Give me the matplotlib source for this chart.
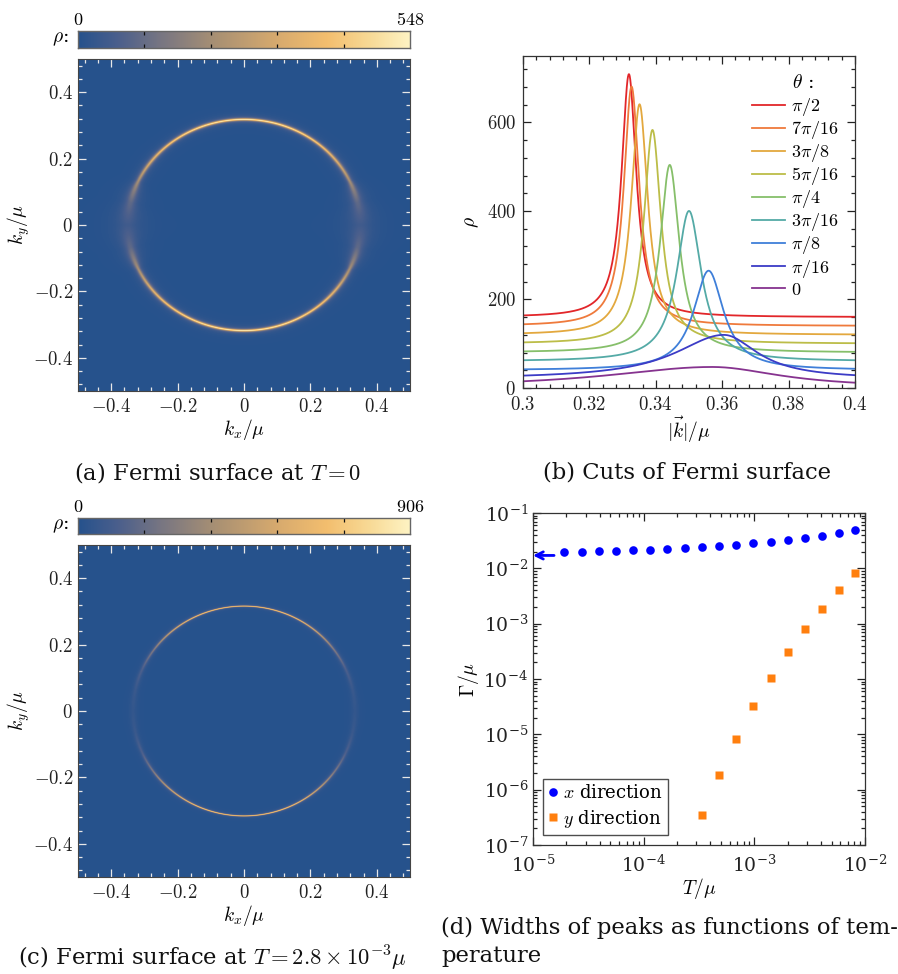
import numpy as np
import matplotlib
matplotlib.use("Agg")
import matplotlib.pyplot as plt
from matplotlib.colors import LinearSegmentedColormap
from matplotlib.ticker import MultipleLocator, FuncFormatter, LogLocator, NullFormatter

plt.rcParams['mathtext.fontset'] = 'cm'
plt.rcParams['font.family'] = ['DejaVu Serif']

# ---------------- data ----------------
# panel (b): cuts of Fermi surface at angles theta
theta_labels = [r'$\pi/2$', r'$7\pi/16$', r'$3\pi/8$', r'$5\pi/16$', r'$\pi/4$',
                r'$3\pi/16$', r'$\pi/8$', r'$\pi/16$', r'$0$']
theta_vals = [8, 7, 6, 5, 4, 3, 2, 1, 0]            # in units of pi/16
peak_k = [0.3319, 0.3327, 0.3351, 0.3390, 0.3442, 0.3500, 0.3559, 0.3605, 0.3570]
peak_rho = [709, 681, 641, 583, 504, 400, 265, 120, 47.5]
offset_rho = [160, 140, 120, 100, 80, 60, 40, 20, 0]
hwhm_left = [0.0027, 0.0028, 0.0030, 0.0031, 0.0035, 0.0045, 0.0055, 0.0178, 0.039]
hwhm_right = [0.0027, 0.0028, 0.0030, 0.0031, 0.0035, 0.0045, 0.0055, 0.0124, 0.025]
line_colors = ['#e2262a', '#ef7a3c', '#e3a83e', '#bcbd48', '#86bf6a',
               '#54aaa6', '#3f7fd9', '#3c3cc6', '#86338f']

# panel (a)/(c): ring geometry
ring_a_rx, ring_a_ry = 0.350, 0.318
ring_c_rx, ring_c_ry = 0.334, 0.316
cbar_a_max = 548
cbar_c_max = 906
ring_c_height = [40, 60, 120, 260, 480, 680, 820, 880, 906]   # theta = 0..pi/2 step pi/16
ring_c_width = [0.010, 0.007, 0.0045, 0.003, 0.0022, 0.0016, 0.0013, 0.0011, 0.0010]

# panel (d): widths vs temperature
T_x = [1.92e-5, 2.75e-5, 3.93e-5, 5.62e-5, 8.03e-5, 1.15e-4, 1.64e-4, 2.35e-4, 3.36e-4,
       4.80e-4, 6.86e-4, 9.81e-4, 1.40e-3, 2.00e-3, 2.87e-3, 4.10e-3, 5.86e-3, 8.07e-3]
G_x = [0.0195, 0.0197, 0.0203, 0.0206, 0.0211, 0.0217, 0.0224, 0.0233, 0.0239,
       0.0250, 0.0268, 0.0283, 0.0304, 0.0325, 0.0354, 0.0389, 0.0435, 0.0493]
T_y = [3.36e-4, 4.80e-4, 6.86e-4, 9.81e-4, 1.40e-3, 2.00e-3, 2.87e-3, 4.10e-3, 5.86e-3, 8.07e-3]
G_y = [3.44e-7, 1.87e-6, 8.35e-6, 3.21e-5, 1.06e-4, 3.08e-4, 8.01e-4, 1.84e-3, 4.06e-3, 8.35e-3]
G_x_T0 = 0.0171

captions = [r'(a) Fermi surface at $T=0$', '(b) Cuts of Fermi surface',
            r'(c) Fermi surface at $T=2.8\times10^{-3}\mu$',
            '(d) Widths of peaks as functions of tem-\nperature']

# ---------------- helpers ----------------
W, H = 898, 974
fig = plt.figure(figsize=(W / 100, H / 100), dpi=100)
TL = 13.5     # tick label size
AL = 14       # axis label size


def ax_px(l, t, w, h):
    return fig.add_axes([l / W, 1 - (t + h) / H, w / W, h / H])


def numfmt(v, pos=None):
    s = f'{v:.3f}'.rstrip('0').rstrip('.')
    if s in ('-0', ''):
        s = '0'
    return '$' + s + '$'


cmap = LinearSegmentedColormap.from_list('mma', [
    (0.00, (38/255, 82/255, 140/255)),
    (0.12, (75/255, 95/255, 140/255)),
    (0.25, (120/255, 118/255, 130/255)),
    (0.42, (170/255, 145/255, 115/255)),
    (0.60, (215/255, 170/255, 110/255)),
    (0.75, (243/255, 190/255, 110/255)),
    (0.88, (248/255, 218/255, 150/255)),
    (1.00, (254/255, 243/255, 195/255)),
])

TICKC = '#222222'
SPC = '#333333'


def lorentz(k, k0, A, gl, gr):
    g = np.where(k < k0, gl, gr)
    return A * g ** 2 / ((k - k0) ** 2 + g ** 2)


def ring_image(rx, ry, heights, widths, n=332, ss=4):
    N = n * ss
    x = (np.arange(N) + 0.5) / N - 0.5
    X, Y = np.meshgrid(x, x)
    r = np.hypot(X, Y)
    th = np.arctan2(np.abs(Y), np.abs(X))
    R = 1 / np.sqrt(np.cos(th) ** 2 / rx ** 2 + np.sin(th) ** 2 / ry ** 2)
    nodes = np.linspace(0, np.pi / 2, len(heights))
    A = np.interp(th, nodes, heights)
    g = np.interp(th, nodes, widths)
    img = A * g ** 2 / ((r - R) ** 2 + g ** 2)
    return img.reshape(n, ss, n, ss).mean(axis=(1, 3))


def style_heat(ax):
    ax.set_xlim(-0.5, 0.5)
    ax.set_ylim(-0.5, 0.5)
    for a in (ax.xaxis, ax.yaxis):
        a.set_major_locator(MultipleLocator(0.2))
        a.set_minor_locator(MultipleLocator(0.04))
        a.set_major_formatter(FuncFormatter(numfmt))
    ax.tick_params(which='both', direction='in', top=True, right=True,
                   color='#e8e8e8', labelsize=TL, labelcolor='#222222', width=0.9)
    ax.tick_params(which='major', length=6)
    ax.tick_params(which='minor', length=3)
    ax.tick_params(axis='x', pad=5)
    for s in ax.spines.values():
        s.set_color('#444444')
        s.set_linewidth(0.8)
    ax.set_xlabel(r'$k_x/\mu$', fontsize=AL, labelpad=1)
    ax.set_ylabel(r'$k_y/\mu$', fontsize=AL, labelpad=1)


def colorbar_px(t, h, vmax):
    cax = ax_px(78, t, 332, h)
    grad = np.linspace(0, 1, 512)[None, :]
    cax.imshow(grad, aspect='auto', cmap=cmap, extent=[0, 1, 0, 1])
    cax.set_xlim(0, 1)
    cax.set_ylim(0, 1)
    cax.set_xticks([0.2, 0.4, 0.6, 0.8])
    cax.set_yticks([])
    cax.tick_params(axis='x', direction='in', top=True, bottom=True, length=3,
                    color='#111111', labelbottom=False, width=0.9)
    for s in cax.spines.values():
        s.set_color('#666666')
        s.set_linewidth(1.0)
    fig.text(78 / W, 1 - (t - 11) / H, '$0$', ha='center', va='center', fontsize=13)
    fig.text(410 / W, 1 - (t - 11) / H, f'${vmax}$', ha='center', va='center', fontsize=13)
    fig.text(60 / W, 1 - (t + h / 2) / H, r'$\rho$:', ha='center', va='center', fontsize=14)


# ---------------- panel (a) ----------------
nodes_order = np.argsort(theta_vals)
heights_a = [peak_rho[i] - offset_rho[i] for i in nodes_order]
widths_a = [0.5 * (hwhm_left[i] + hwhm_right[i]) for i in nodes_order]
colorbar_px(31, 17, cbar_a_max)
axa = ax_px(78, 59, 332, 332)
img_a = ring_image(ring_a_rx, ring_a_ry, heights_a, widths_a)
axa.imshow(img_a, origin='lower', extent=[-0.5, 0.5, -0.5, 0.5], cmap=cmap,
           vmin=0, vmax=cbar_a_max, interpolation='nearest', aspect='auto')
style_heat(axa)

# ---------------- panel (c) ----------------
colorbar_px(518, 16, cbar_c_max)
axc = ax_px(78, 545, 332, 332)
img_c = ring_image(ring_c_rx, ring_c_ry, ring_c_height, ring_c_width)
axc.imshow(img_c, origin='lower', extent=[-0.5, 0.5, -0.5, 0.5], cmap=cmap,
           vmin=0, vmax=cbar_c_max, interpolation='nearest', aspect='auto')
style_heat(axc)

# ---------------- panel (b) ----------------
axb = ax_px(523, 56, 332, 332)
k = np.linspace(0.3, 0.4, 2000)
for i in range(len(theta_labels)):
    rho = offset_rho[i] + lorentz(k, peak_k[i], peak_rho[i] - offset_rho[i],
                                  hwhm_left[i], hwhm_right[i])
    axb.plot(k, rho, color=line_colors[i], lw=1.3, label=theta_labels[i])
axb.set_xlim(0.3, 0.4)
axb.set_ylim(0, 750)
axb.xaxis.set_major_locator(MultipleLocator(0.02))
axb.xaxis.set_minor_locator(MultipleLocator(0.004))
axb.yaxis.set_major_locator(MultipleLocator(200))
axb.yaxis.set_minor_locator(MultipleLocator(40))
axb.xaxis.set_major_formatter(FuncFormatter(numfmt))
axb.yaxis.set_major_formatter(FuncFormatter(numfmt))
axb.tick_params(which='both', direction='in', top=True, right=True, color=TICKC,
                labelsize=TL, labelcolor='#222222', width=0.9)
axb.tick_params(which='major', length=6)
axb.tick_params(which='minor', length=3)
axb.tick_params(axis='x', pad=6)
axb.tick_params(axis='y', pad=5)
for s in axb.spines.values():
    s.set_color(SPC)
    s.set_linewidth(0.9)
axb.set_xlabel(r'$|\vec{k}|/\mu$', fontsize=AL, labelpad=0)
axb.set_ylabel(r'$\rho$', fontsize=AL, labelpad=4)
leg = axb.legend(loc='upper left', bbox_to_anchor=((752 - 523) / 332, (388 - 96) / 332),
                 frameon=False, fontsize=13, handlelength=1.83, labelspacing=0.06,
                 borderaxespad=0, borderpad=0, handletextpad=0.34)
fig.text(792 / W, 1 - 83 / H, r'$\theta$ :', ha='left', va='center', fontsize=14)

# ---------------- panel (d) ----------------
axd = ax_px(533, 513, 332, 332)
axd.plot(T_x, G_x, 'o', color='#0000ff', ms=6.2, mec='none', label=r'$x$ direction')
axd.plot(T_y, G_y, 's', color='#ff7f0e', ms=6.0, mec='none', label=r'$y$ direction')
axd.set_xscale('log')
axd.set_yscale('log')
axd.set_xlim(1e-5, 1e-2)
axd.set_ylim(1e-7, 1e-1)
axd.annotate('', xy=(1.0e-5, G_x_T0), xytext=(1.55e-5, G_x_T0),
             arrowprops=dict(arrowstyle='->', color='#0000ff', lw=2.0,
                             shrinkA=0, shrinkB=0, mutation_scale=13))
axd.xaxis.set_major_locator(LogLocator(base=10, numticks=10))
axd.yaxis.set_major_locator(LogLocator(base=10, numticks=10))
axd.xaxis.set_minor_locator(LogLocator(base=10, subs=np.arange(2, 10), numticks=20))
axd.yaxis.set_minor_locator(LogLocator(base=10, subs=np.arange(2, 10), numticks=20))
axd.xaxis.set_minor_formatter(NullFormatter())
axd.yaxis.set_minor_formatter(NullFormatter())
axd.tick_params(which='both', direction='in', top=True, right=True, color=TICKC,
                labelsize=TL, labelcolor='#222222', width=0.9)
axd.tick_params(which='major', length=6)
axd.tick_params(which='minor', length=3)
axd.tick_params(axis='x', pad=7)
for s in axd.spines.values():
    s.set_color(SPC)
    s.set_linewidth(0.9)
axd.set_xlabel(r'$T/\mu$', fontsize=AL, labelpad=0)
axd.set_ylabel(r'$\Gamma/\mu$', fontsize=AL, labelpad=2)
legd = axd.legend(loc='lower left', fontsize=13, frameon=True, fancybox=False,
                  edgecolor='#222222', handlelength=0.5, handletextpad=0.3,
                  borderpad=0.3, labelspacing=0.3, borderaxespad=0.55)
legd.get_frame().set_linewidth(1.0)

# ---------------- captions ----------------
cap_kw = dict(fontsize=16.3, family='DejaVu Serif', color='#111111')
fig.text(218 / W, 1 - 473 / H, captions[0], ha='center', va='center', **cap_kw)
fig.text(687 / W, 1 - 473 / H, captions[1], ha='center', va='center', **cap_kw)
fig.text(212 / W, 1 - 958 / H, captions[2], ha='center', va='center', **cap_kw)
fig.text(441 / W, 1 - 942 / H, captions[3], ha='left', va='center', linespacing=1.3, **cap_kw)

fig.savefig('out.png', dpi=100)
